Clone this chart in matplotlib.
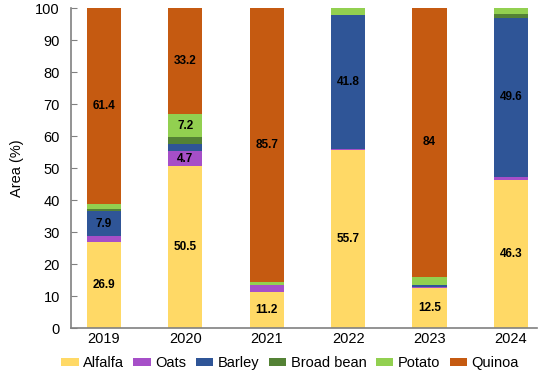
import matplotlib.pyplot as plt
import numpy as np

plt.rcParams['font.family'] = ['Liberation Sans', 'DejaVu Sans']

years = ['2019', '2020', '2021', '2022', '2023', '2024']
crops = ['Alfalfa', 'Oats', 'Barley', 'Broad bean', 'Potato', 'Quinoa']

alfalfa = [26.9, 50.5, 11.2, 55.7, 12.5, 46.3]
oats = [1.8, 4.7, 2.3, 0.3, 0.3, 1.0]
barley = [7.9, 2.2, 0.0, 41.8, 0.5, 49.6]
broad_bean = [0.5, 2.2, 0.0, 0.0, 0.0, 1.3]
potato = [1.5, 7.2, 0.8, 2.2, 2.7, 1.8]
quinoa = [61.4, 33.2, 85.7, 0.0, 84.0, 0.0]

# labels shown inside the bars (None = no label)
labels = {
    'Alfalfa': ['26.9', '50.5', '11.2', '55.7', '12.5', '46.3'],
    'Oats': [None, '4.7', None, None, None, None],
    'Barley': ['7.9', None, None, '41.8', None, '49.6'],
    'Broad bean': [None] * 6,
    'Potato': [None, '7.2', None, None, None, None],
    'Quinoa': ['61.4', '33.2', '85.7', None, '84', None],
}

series = [alfalfa, oats, barley, broad_bean, potato, quinoa]
colors = ['#FFD966', '#A64FC8', '#2F5597', '#548235', '#92D050', '#C55A11']

fig = plt.figure(figsize=(5.5, 3.84), dpi=100)
ax = fig.add_axes([71 / 550, 1 - 328 / 384, (537 - 71) / 550, 320 / 384])

x = np.arange(len(years))
bottom = np.zeros(len(years))
for name, vals, col in zip(crops, series, colors):
    vals = np.array(vals)
    ax.bar(x, vals, width=0.42, bottom=bottom, color=col, label=name)
    for i, lab in enumerate(labels[name]):
        if lab is not None:
            ax.text(x[i], bottom[i] + vals[i] / 2, lab, ha='center', va='center',
                    fontsize=8.5, fontweight='bold', color='black')
    bottom += vals

ax.set_xlim(-0.405, 5.32)
ax.set_ylim(0, 100)
ax.set_yticks(range(0, 101, 10))
ax.set_xticks(x)
ax.set_xticklabels(years)
ax.tick_params(axis='y', direction='in', length=4, color='#808080', labelsize=10.5, pad=8)
ax.tick_params(axis='x', length=0, labelsize=10.5, pad=3)
ax.set_ylabel('Area (%)', fontsize=10.5, labelpad=8)

for s in ['top', 'right']:
    ax.spines[s].set_visible(False)
for s in ['left', 'bottom']:
    ax.spines[s].set_color('#808080')
    ax.spines[s].set_linewidth(1.2)

fig.legend(*ax.get_legend_handles_labels(), loc='center', bbox_to_anchor=(290 / 550, 1 - 363 / 384),
           ncol=6, frameon=False, fontsize=10.5, handlelength=1.2, handleheight=0.5,
           handletextpad=0.3, columnspacing=0.65, borderpad=0)

plt.savefig('out.png', dpi=100)
